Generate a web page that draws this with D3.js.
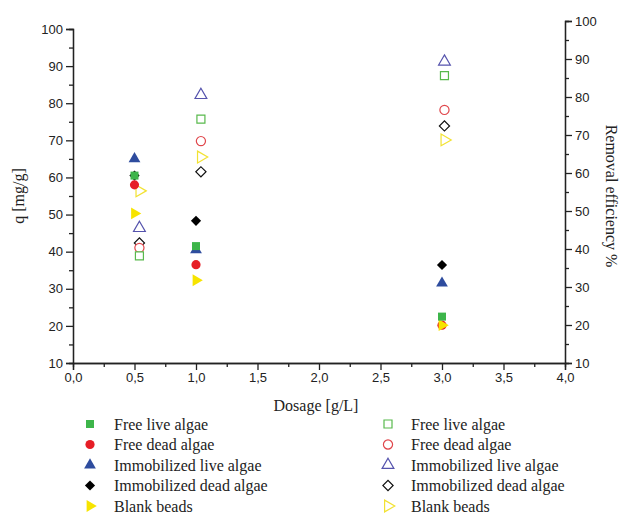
<!DOCTYPE html>
<html>
<head>
<meta charset="utf-8">
<script src="https://cdn.jsdelivr.net/npm/d3@7"></script>
<style>
  body { margin: 0; background: #fff; }
  .tick text { font-family: "Liberation Sans", Arial, sans-serif; font-size: 13px; fill: #222; }
  .title { font-family: "Liberation Serif", "Times New Roman", serif; font-size: 16px; fill: #222; }
  .legend text { font-family: "Liberation Serif", "Times New Roman", serif; font-size: 16px; fill: #222; }
</style>
</head>
<body>
<svg id="chart" width="626" height="514"></svg>
<script>
/* =========================
   DATA
========================= */
const seriesNames = [
  "Free live algae",
  "Free dead algae",
  "Immobilized live algae",
  "Immobilized dead algae",
  "Blank beads"
];

// filled markers: q [mg/g] (left axis)
const dosageQ = [0.5, 1.0, 3.0];
const qFreeLive = [60.5, 41.5, 22.5];
const qFreeDead = [58, 36.5, 20.2];
const qImmLive = [65, 40.5, 31.5];
const qImmDead = [60.5, 48.3, 36.4];
const qBlank = [50.3, 32.3, 20.2];

// open markers: removal efficiency % (right axis)
const dosageR = [0.54, 1.04, 3.02];
const rFreeLive = [38.2, 74.2, 85.6];
const rFreeDead = [40.3, 68.4, 76.6];
const rImmLive = [45.5, 80.5, 89.3];
const rImmDead = [41.6, 60.3, 72.4];
const rBlank = [55.3, 64.2, 68.7];

const xTicks = [0, 0.5, 1, 1.5, 2, 2.5, 3, 3.5, 4];
const yTicks = [10, 20, 30, 40, 50, 60, 70, 80, 90, 100];

/* =========================
   SETUP
========================= */
const svg = d3.select("#chart");
const left = 73, right = 565, bottom = 363;

const x = d3.scaleLinear().domain([0, 4]).range([left, right]);
const yL = d3.scaleLinear().domain([10, 100]).range([bottom, 29]);
const yR = d3.scaleLinear().domain([10, 100]).range([bottom, 21]);

const fmt = d3.format(".1f");
const comma = (d) => fmt(d).replace(".", ",");

/* ===== AXES ===== */
function drawAxis(axis, tx, ty) {
  const g = svg.append("g").attr("transform", `translate(${tx},${ty})`).call(axis);
  g.select(".domain").attr("stroke", "#222").attr("stroke-width", 1.3);
  g.selectAll(".tick line").attr("stroke", "#222").attr("stroke-width", 1.3);
  return g;
}

// minor ticks first, majors on top
drawAxis(d3.axisLeft(yL).tickValues(d3.range(15, 100, 10)).tickSize(4).tickFormat(""), left, 0);
drawAxis(d3.axisRight(yR).tickValues(d3.range(15, 100, 10)).tickSize(4).tickFormat(""), right, 0);
drawAxis(d3.axisBottom(x).tickValues(d3.range(0.25, 4, 0.5)).tickSize(4).tickFormat(""), 0, bottom);

drawAxis(d3.axisLeft(yL).tickValues(yTicks).tickSize(7).tickPadding(3), left, 0);
drawAxis(d3.axisRight(yR).tickValues(yTicks).tickSize(7).tickPadding(3), right, 0);
drawAxis(d3.axisBottom(x).tickValues(xTicks).tickSize(7).tickPadding(3).tickFormat(comma), 0, bottom);

/* ===== TITLES ===== */
svg.append("text").attr("class", "title")
  .attr("x", 316).attr("y", 411).attr("text-anchor", "middle")
  .text("Dosage [g/L]");

svg.append("text").attr("class", "title")
  .attr("transform", "translate(24,196) rotate(-90)").attr("text-anchor", "middle")
  .text("q [mg/g]");

svg.append("text").attr("class", "title")
  .attr("transform", "translate(606,196) rotate(90)").attr("text-anchor", "middle")
  .text("Removal efficiency %");

/* =========================
   MARKERS
========================= */
const styles = [
  { color: "#3db54a", open: "#58b94c", type: d3.symbolSquare, size: 64, rot: 0 },
  { color: "#e61e26", open: "#e0464b", type: d3.symbolCircle, size: 66, rot: 0 },
  { color: "#2e4c9e", open: "#5553ad", type: d3.symbolTriangle, size: 60, rot: 0 },
  { color: "#000000", open: "#111111", type: d3.symbolSquare, size: 52, rot: 45 },
  { color: "#f7e400", open: "#f2e233", type: d3.symbolTriangle, size: 60, rot: 90 }
];

const qSeries = [qFreeLive, qFreeDead, qImmLive, qImmDead, qBlank];
const rSeries = [rFreeLive, rFreeDead, rImmLive, rImmDead, rBlank];

function marker(sel, s, filled, cx, cy) {
  sel.append("path")
    .attr("d", d3.symbol().type(s.type).size(s.size)())
    .attr("transform", `translate(${cx},${cy}) rotate(${s.rot})`)
    .attr("fill", filled ? s.color : "#fff")
    .attr("stroke", filled ? "none" : s.open)
    .attr("stroke-width", 1.2);
}

const plot = svg.append("g");
// draw order so overlaps look like the original
const order = [3, 2, 1, 4, 0];

order.forEach((i) => {
  rSeries[i].forEach((v, j) => marker(plot, styles[i], false, x(dosageR[j]), yR(v)));
});
order.forEach((i) => {
  qSeries[i].forEach((v, j) => marker(plot, styles[i], true, x(dosageQ[j]), yL(v)));
});

/* =========================
   LEGEND
========================= */
const legend = svg.append("g").attr("class", "legend");
const rowY = d3.scaleLinear().domain([0, 4]).range([424, 506]);

seriesNames.forEach((name, i) => {
  const y = rowY(i);
  marker(legend, styles[i], true, 90, y);
  legend.append("text").attr("x", 114).attr("y", y).attr("dy", "0.35em").text(name);
  marker(legend, styles[i], false, 388, y);
  legend.append("text").attr("x", 411).attr("y", y).attr("dy", "0.35em").text(name);
});
</script>
</body>
</html>
